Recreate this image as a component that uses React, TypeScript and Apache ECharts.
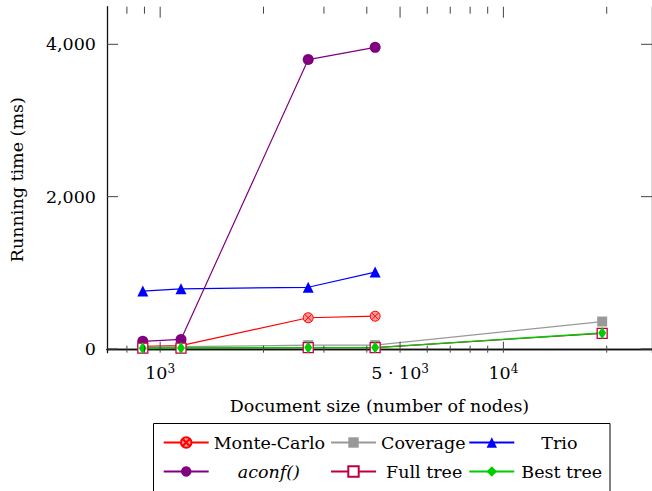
import React, { useEffect, useRef } from "react";
import * as echarts from "echarts";

// ---- data ----
const xValues = [890, 1150, 2700, 4230, 19400];
const monteCarlo = [35, 45, 410, 430];
const coverage = [25, 30, 50, 50, 360];
const trio = [760, 790, 810, 1010];
const aconf = [100, 125, 3800, 3960];
const fullTree = [10, 12, 18, 18, 205];
const bestTree = [10, 12, 18, 18, 210];

const seriesNames = ["Monte-Carlo", "Coverage", "Trio", "aconf()", "Full tree", "Best tree"];
const xMajorTicks = [1000, 5000, 10000];
const xMinorTicks = [800, 900, 2000, 3000, 4000, 6000, 7000, 8000, 9000, 20000];
const yTicks = [0, 2000, 4000];

const FONT = "DejaVu Serif";
const FS = 17.5;
const X_MIN = 700;
const X_MAX = 27100;
const Y_MIN = -49;
const Y_MAX = 4494;

const pairs = (ys: number[]) => ys.map((y, i) => [xValues[i], y]);

const otimes =
  "path://M10 0A10 10 0 1 1 10 20A10 10 0 1 1 10 0ZM2.93 2.93L17.07 17.07M17.07 2.93L2.93 17.07";

export default function App() {
  const ref = useRef<HTMLDivElement>(null);
  useEffect(() => {
    if (!ref.current) return;
    const chart = echarts.init(ref.current, null, { renderer: "svg" });

    const xLabelFmt = (v: number) => {
      if (Math.abs(v - 1000) < 1) return "{n|10}{s|3}";
      if (Math.abs(v - 5000) < 1) return "{n|5 · 10}{s|3}";
      if (Math.abs(v - 10000) < 1) return "{n|10}{s|4}";
      return "";
    };

    const baseX = {
      type: "log",
      min: X_MIN,
      max: X_MAX,
      logBase: 10,
      splitLine: { show: false },
      axisTick: { show: false },
      axisLine: { show: true, lineStyle: { color: "#111", width: 1.3 } },
    };

    const legendBase = {
      selectedMode: false,
      padding: 0,
      itemWidth: 45,
      itemHeight: 13,
      textStyle: { fontFamily: FONT, fontSize: FS, color: "#000" },
    };

    const legendFrame = {
      type: "rect",
      shape: { x: 153.5, y: 423.5, width: 456.5, height: 80 },
      style: { fill: "none", stroke: "#000", lineWidth: 1 },
      silent: true,
    };

    const option: any = {
      animation: false,
      textStyle: { fontFamily: FONT },
      grid: { left: 106.7, top: 6.7, right: -5.3, bottom: 138.3 },
      xAxis: [
        {
          ...baseX,
          position: "bottom",
          name: "Document size (number of nodes)",
          nameLocation: "middle",
          nameGap: 44,
          nameTextStyle: { fontFamily: FONT, fontSize: FS, color: "#000" },
          axisLabel: {
            show: true,
            customValues: xMajorTicks,
            margin: 10,
            formatter: xLabelFmt,
            rich: {
              n: { fontFamily: FONT, fontSize: FS, color: "#000", lineHeight: 21 },
              s: { fontFamily: FONT, fontSize: 12, color: "#000", verticalAlign: "top", lineHeight: 12 },
            },
          },
        },
        {
          ...baseX,
          position: "top",
          axisLabel: { show: false },
        },
      ],
      yAxis: [
        {
          type: "value",
          position: "left",
          min: Y_MIN,
          max: Y_MAX,
          name: "Running time (ms)",
          nameLocation: "middle",
          nameGap: 81,
          nameTextStyle: { fontFamily: FONT, fontSize: FS, color: "#000" },
          splitLine: { show: false },
          axisTick: { show: false },
          axisLine: { show: true, lineStyle: { color: "#111", width: 1.3 } },
          axisLabel: {
            show: true,
            customValues: yTicks,
            margin: 11,
            fontFamily: FONT,
            fontSize: FS,
            color: "#000",
            formatter: (v: number) => v.toLocaleString("en-US"),
          },
        },
        {
          type: "value",
          position: "right",
          min: Y_MIN,
          max: Y_MAX,
          splitLine: { show: false },
          axisTick: { show: false },
          axisLine: { show: true, lineStyle: { color: "#111", width: 1.3 } },
          axisLabel: { show: false },
        },
      ],
      legend: [
        { ...legendBase, data: [seriesNames[0]], left: 162.7, top: 433.5 },
        { ...legendBase, data: [seriesNames[1]], left: 330, top: 433.5 },
        { ...legendBase, data: [seriesNames[2]], left: 468.3, top: 433.5, textStyle: { ...legendBase.textStyle, padding: [0, 0, 0, 22] } },
        { ...legendBase, data: [seriesNames[3]], left: 162.7, top: 462.5, textStyle: { ...legendBase.textStyle, fontStyle: "italic", padding: [0, 0, 0, 24] } },
        { ...legendBase, data: [seriesNames[4]], left: 330, top: 462.5, textStyle: { ...legendBase.textStyle, padding: [0, 0, 0, 5] } },
        { ...legendBase, data: [seriesNames[5]], left: 468.3, top: 462.5, textStyle: { ...legendBase.textStyle, padding: [0, 0, 0, 2] } },
      ],
      graphic: [legendFrame],
      series: [
        {
          name: seriesNames[0],
          type: "line",
          data: pairs(monteCarlo),
          symbol: otimes,
          symbolSize: 10,
          lineStyle: { color: "#ff0000", width: 1.2 },
          itemStyle: { color: "#ff9999", borderColor: "#ff0000", borderWidth: 1 },
        },
        {
          name: seriesNames[1],
          type: "line",
          data: pairs(coverage),
          symbol: "rect",
          symbolSize: 10,
          lineStyle: { color: "#999999", width: 1.2 },
          itemStyle: { color: "#999999" },
        },
        {
          name: seriesNames[2],
          type: "line",
          data: pairs(trio),
          symbol: "triangle",
          symbolSize: 11,
          lineStyle: { color: "#0000ff", width: 1.2 },
          itemStyle: { color: "#0000ff" },
        },
        {
          name: seriesNames[3],
          type: "line",
          data: pairs(aconf),
          symbol: "circle",
          symbolSize: 11,
          lineStyle: { color: "#800080", width: 1.2 },
          itemStyle: { color: "#800080" },
        },
        {
          name: seriesNames[4],
          type: "line",
          data: pairs(fullTree),
          symbol: "rect",
          symbolSize: 10,
          lineStyle: { color: "#bf0040", width: 1.2 },
          itemStyle: { color: "#ffffff", borderColor: "#bf0040", borderWidth: 1.3 },
        },
        {
          name: seriesNames[5],
          type: "line",
          data: pairs(bestTree),
          symbol: "diamond",
          symbolSize: [8, 12],
          lineStyle: { color: "#00cc00", width: 1.4 },
          itemStyle: { color: "#00cc00" },
        },
      ],
    };

    chart.setOption(option);

    // tick marks, positioned through the chart's own axis scales
    const finder = { xAxisIndex: 0, yAxisIndex: 0 };
    const px = (x: number, y: number) => chart.convertToPixel(finder, [x, y]) as number[];
    const tickLine = (x1: number, y1: number, x2: number, y2: number) => ({
      type: "line",
      silent: true,
      z: 100,
      shape: { x1, y1, x2, y2 },
      style: { stroke: "#444", lineWidth: 1 },
    });
    const ticks: any[] = [];
    const xTicks = (vals: number[], len: number) => {
      vals.forEach((v) => {
        const b = px(v, Y_MIN);
        const t = px(v, Y_MAX);
        ticks.push(tickLine(b[0], b[1], b[0], b[1] - len));
        ticks.push(tickLine(t[0], t[1], t[0], t[1] + len));
      });
    };
    xTicks(xMajorTicks, 11);
    xTicks(xMinorTicks, 7);
    yTicks.forEach((v) => {
      const l = px(X_MIN, v);
      const r = px(X_MAX, v);
      ticks.push(tickLine(l[0], l[1], l[0] + 11, l[1]));
      ticks.push(tickLine(r[0], r[1], r[0] - 11, r[1]));
    });
    chart.setOption({ graphic: [legendFrame, ...ticks] }, { replaceMerge: ["graphic"] });

    return () => chart.dispose();
  }, []);

  return (
    <div
      ref={ref}
      style={{ position: "absolute", left: 0, top: 0, width: 652, height: 491, background: "#fff" }}
    />
  );
}
